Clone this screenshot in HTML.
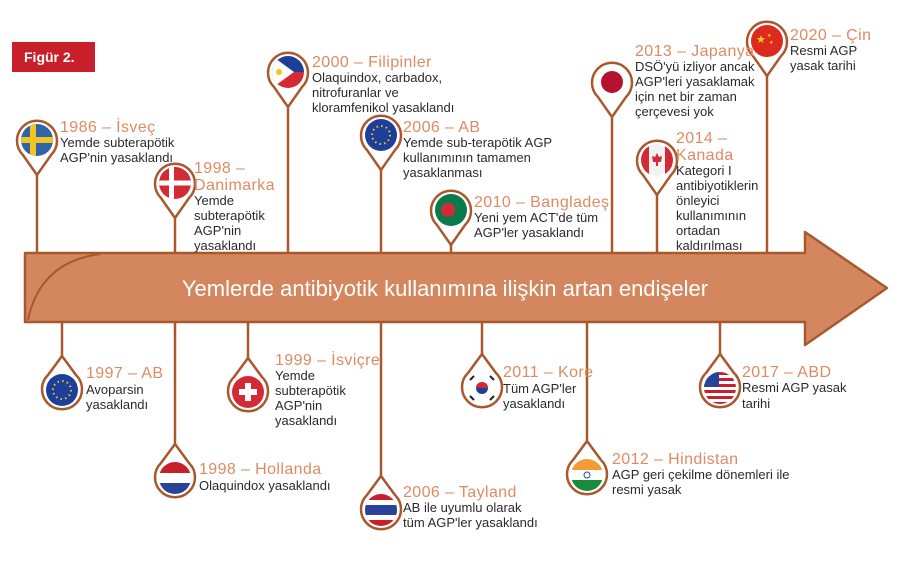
<!DOCTYPE html>
<html><head><meta charset="utf-8"><style>
html,body{margin:0;padding:0;background:#fff;}
svg{display:block;}
text{font-family:"Liberation Sans",sans-serif;}
.t{fill:#e08a62;font-size:16px;letter-spacing:0.4px;}
.b{fill:#2a2a2a;font-size:13px;letter-spacing:0px;}
</style></head><body>
<svg width="900" height="564" viewBox="0 0 900 564" xmlns="http://www.w3.org/2000/svg">
<defs>
<clipPath id="c" clipPathUnits="userSpaceOnUse"><circle cx="0" cy="0" r="16"/></clipPath>
</defs>
<rect x="12" y="42" width="83" height="30" fill="#c8202a"/>
<text x="24" y="62" fill="#fff" font-size="14" font-weight="bold">Figür 2.</text>

<g stroke="#a9582e" stroke-width="2.5" fill="none">
<line x1="37" y1="174" x2="37" y2="253"/>
<line x1="175" y1="218" x2="175" y2="253"/>
<line x1="288" y1="108" x2="288" y2="253"/>
<line x1="381" y1="170" x2="381" y2="253"/>
<line x1="451" y1="244" x2="451" y2="253"/>
<line x1="612" y1="118" x2="612" y2="253"/>
<line x1="657" y1="195" x2="657" y2="253"/>
<line x1="767" y1="76" x2="767" y2="253"/>
<line x1="62" y1="322" x2="62" y2="357"/>
<line x1="175" y1="322" x2="175" y2="445"/>
<line x1="248" y1="322" x2="248" y2="358"/>
<line x1="381" y1="322" x2="381" y2="477"/>
<line x1="482" y1="322" x2="482" y2="355"/>
<line x1="587" y1="322" x2="587" y2="442"/>
<line x1="720" y1="322" x2="720" y2="355"/>
</g>

<path d="M25,253 L805,253 L805,232 L887,288 L805,345 L805,322 L25,322 Z" fill="#d4875f" stroke="#a9582e" stroke-width="2.5" stroke-linejoin="round"/>
<path d="M28,320 Q40,262 100,254" fill="none" stroke="#a9582e" stroke-width="2"/>
<text x="445" y="296" text-anchor="middle" fill="#fff" font-size="22">Yemlerde antibiyotik kullanımına ilişkin artan endişeler</text>

<g stroke="#a9582e" stroke-width="2.5" fill="#fff">
<path transform="translate(37,140)" d="M0,35 L-14,15 A20,20 0 1 1 14,15 Z"/>
<path transform="translate(175,183)" d="M0,35 L-14,15 A20,20 0 1 1 14,15 Z"/>
<path transform="translate(288,72)" d="M0,35 L-14,15 A20,20 0 1 1 14,15 Z"/>
<path transform="translate(381,135)" d="M0,35 L-14,15 A20,20 0 1 1 14,15 Z"/>
<path transform="translate(451,210)" d="M0,35 L-14,15 A20,20 0 1 1 14,15 Z"/>
<path transform="translate(612,82)" d="M0,35 L-14,15 A20,20 0 1 1 14,15 Z"/>
<path transform="translate(657,160)" d="M0,35 L-14,15 A20,20 0 1 1 14,15 Z"/>
<path transform="translate(767,41)" d="M0,35 L-14,15 A20,20 0 1 1 14,15 Z"/>
<path transform="translate(62,390)" d="M0,-34 L-14,-15 A20,20 0 1 0 14,-15 Z"/>
<path transform="translate(175,478)" d="M0,-34 L-14,-15 A20,20 0 1 0 14,-15 Z"/>
<path transform="translate(248,392)" d="M0,-34 L-14,-15 A20,20 0 1 0 14,-15 Z"/>
<path transform="translate(381,510)" d="M0,-34 L-14,-15 A20,20 0 1 0 14,-15 Z"/>
<path transform="translate(482,388)" d="M0,-34 L-14,-15 A20,20 0 1 0 14,-15 Z"/>
<path transform="translate(587,475)" d="M0,-34 L-14,-15 A20,20 0 1 0 14,-15 Z"/>
<path transform="translate(720,388)" d="M0,-34 L-14,-15 A20,20 0 1 0 14,-15 Z"/>
</g>

<g transform="translate(37,140)" clip-path="url(#c)"><rect x="-16" y="-16" width="32" height="32" fill="#2f64a8"/><rect x="-16" y="-3" width="32" height="6" fill="#f4c520"/><rect x="-7" y="-16" width="6" height="32" fill="#f4c520"/></g>
<g transform="translate(175,183)" clip-path="url(#c)"><rect x="-16" y="-16" width="32" height="32" fill="#d42a35"/><rect x="-16" y="-2.5" width="32" height="5" fill="#fff"/><rect x="-6" y="-16" width="5" height="32" fill="#fff"/></g>
<g transform="translate(288,72)" clip-path="url(#c)"><rect x="-16" y="-16" width="32" height="16" fill="#1d3f9a"/><rect x="-16" y="0" width="32" height="16" fill="#d42a35"/><path d="M-16,-16 L6,0 L-16,16Z" fill="#fff"/><circle cx="-9" cy="0" r="3" fill="#f4c520"/></g>
<g transform="translate(381,135)" clip-path="url(#c)"><rect x="-16" y="-16" width="32" height="32" fill="#1d3f9a"/><circle r="9" fill="none" stroke="#f4c520" stroke-width="2" stroke-dasharray="1.5 3.2"/></g>
<g transform="translate(62,390)" clip-path="url(#c)"><rect x="-16" y="-16" width="32" height="32" fill="#1d3f9a"/><circle r="9" fill="none" stroke="#f4c520" stroke-width="2" stroke-dasharray="1.5 3.2"/></g>
<g transform="translate(451,210)" clip-path="url(#c)"><rect x="-16" y="-16" width="32" height="32" fill="#0a7a4a"/><circle cx="-3" cy="0" r="7" fill="#d42a35"/></g>
<g transform="translate(612,82)" clip-path="url(#c)"><rect x="-16" y="-16" width="32" height="32" fill="#fff"/><circle r="11" fill="#b5122e"/></g>
<g transform="translate(657,160)" clip-path="url(#c)"><rect x="-16" y="-16" width="32" height="32" fill="#f2f2f2"/><rect x="-16" y="-16" width="8" height="32" fill="#d42a35"/><rect x="8" y="-16" width="8" height="32" fill="#d42a35"/><path d="M0,-7 L2,-3 L5,-4 L4,2 L1,2 L1,6 L-1,6 L-1,2 L-4,2 L-5,-4 L-2,-3Z" fill="#d42a35"/></g>
<g transform="translate(767,41)" clip-path="url(#c)"><rect x="-16" y="-16" width="32" height="32" fill="#de2a1e"/><text x="-11" y="2" font-size="11" fill="#f8d51c">★</text><text x="0" y="-4" font-size="5" fill="#f8d51c">★</text><text x="2" y="3" font-size="5" fill="#f8d51c">★</text></g>
<g transform="translate(175,478)" clip-path="url(#c)"><rect x="-16" y="-16" width="32" height="11" fill="#c8202a"/><rect x="-16" y="-5" width="32" height="10" fill="#fff"/><rect x="-16" y="5" width="32" height="11" fill="#27449a"/></g>
<g transform="translate(248,392)" clip-path="url(#c)"><rect x="-16" y="-16" width="32" height="32" fill="#d42a35"/><rect x="-9" y="-3" width="18" height="6" fill="#fff"/><rect x="-3" y="-9" width="6" height="18" fill="#fff"/></g>
<g transform="translate(381,510)" clip-path="url(#c)"><rect x="-16" y="-16" width="32" height="32" fill="#c8202a"/><rect x="-16" y="-10" width="32" height="20" fill="#fff"/><rect x="-16" y="-5" width="32" height="10" fill="#27449a"/></g>
<g transform="translate(482,388)" clip-path="url(#c)"><rect x="-16" y="-16" width="32" height="32" fill="#fff"/><circle r="6" fill="#1d3f9a"/><path d="M-6,0 A6,6 0 0 1 6,0Z" fill="#d42a35"/><g stroke="#222" stroke-width="2"><line x1="-12" y1="-8" x2="-8" y2="-12"/><line x1="8" y1="12" x2="12" y2="8"/><line x1="8" y1="-12" x2="12" y2="-8"/><line x1="-12" y1="8" x2="-8" y2="12"/></g></g>
<g transform="translate(587,475)" clip-path="url(#c)"><rect x="-16" y="-16" width="32" height="11" fill="#f39c32"/><rect x="-16" y="-5" width="32" height="10" fill="#fff"/><rect x="-16" y="5" width="32" height="11" fill="#1b8a3a"/><circle r="3" fill="none" stroke="#27449a" stroke-width="1"/></g>
<g transform="translate(720,388)" clip-path="url(#c)"><rect x="-16" y="-16" width="32" height="32" fill="#fff"/><g fill="#c8202a"><rect x="-16" y="-16" width="32" height="3"/><rect x="-16" y="-10" width="32" height="3"/><rect x="-16" y="-4" width="32" height="3"/><rect x="-16" y="2" width="32" height="3"/><rect x="-16" y="8" width="32" height="3"/><rect x="-16" y="14" width="32" height="3"/></g><rect x="-16" y="-16" width="15" height="15" fill="#27449a"/></g>

<text class="t" x="60" y="132">1986 – İsveç</text>
<text class="b" x="60" y="147">Yemde subterapötik</text>
<text class="b" x="60" y="162">AGP'nin yasaklandı</text>

<text class="t" x="194" y="173">1998 –</text>
<text class="t" x="194" y="190">Danimarka</text>
<text class="b" x="194" y="205">Yemde</text>
<text class="b" x="194" y="220">subterapötik</text>
<text class="b" x="194" y="235">AGP'nin</text>
<text class="b" x="194" y="250">yasaklandı</text>

<text class="t" x="312" y="67">2000 – Filipinler</text>
<text class="b" x="312" y="82">Olaquindox, carbadox,</text>
<text class="b" x="312" y="97">nitrofuranlar ve</text>
<text class="b" x="312" y="112">kloramfenikol yasaklandı</text>

<text class="t" x="403" y="132">2006 – AB</text>
<text class="b" x="403" y="147">Yemde sub-terapötik AGP</text>
<text class="b" x="403" y="162">kullanımının tamamen</text>
<text class="b" x="403" y="177">yasaklanması</text>

<text class="t" x="474" y="207">2010 – Bangladeş</text>
<text class="b" x="474" y="222">Yeni yem ACT'de tüm</text>
<text class="b" x="474" y="237">AGP'ler yasaklandı</text>

<text class="t" x="635" y="56">2013 – Japanya</text>
<text class="b" x="635" y="71">DSÖ'yü izliyor ancak</text>
<text class="b" x="635" y="86">AGP'leri yasaklamak</text>
<text class="b" x="635" y="101">için net bir zaman</text>
<text class="b" x="635" y="116">çerçevesi yok</text>

<text class="t" x="676" y="143">2014 –</text>
<text class="t" x="676" y="160">Kanada</text>
<text class="b" x="676" y="175">Kategori I</text>
<text class="b" x="676" y="190">antibiyotiklerin</text>
<text class="b" x="676" y="205">önleyici</text>
<text class="b" x="676" y="220">kullanımının</text>
<text class="b" x="676" y="235">ortadan</text>
<text class="b" x="676" y="250">kaldırılması</text>

<text class="t" x="790" y="40">2020 – Çin</text>
<text class="b" x="790" y="55">Resmi AGP</text>
<text class="b" x="790" y="70">yasak tarihi</text>

<text class="t" x="86" y="378">1997 – AB</text>
<text class="b" x="86" y="394">Avoparsin</text>
<text class="b" x="86" y="409">yasaklandı</text>

<text class="t" x="275" y="365">1999 – İsviçre</text>
<text class="b" x="275" y="380">Yemde</text>
<text class="b" x="275" y="395">subterapötik</text>
<text class="b" x="275" y="410">AGP'nin</text>
<text class="b" x="275" y="425">yasaklandı</text>

<text class="t" x="199" y="474">1998 – Hollanda</text>
<text class="b" x="199" y="490">Olaquindox yasaklandı</text>

<text class="t" x="403" y="497">2006 – Tayland</text>
<text class="b" x="403" y="512">AB ile uyumlu olarak</text>
<text class="b" x="403" y="527">tüm AGP'ler yasaklandı</text>

<text class="t" x="503" y="377">2011 – Kore</text>
<text class="b" x="503" y="393">Tüm AGP'ler</text>
<text class="b" x="503" y="408">yasaklandı</text>

<text class="t" x="612" y="464">2012 – Hindistan</text>
<text class="b" x="612" y="479">AGP geri çekilme dönemleri ile</text>
<text class="b" x="612" y="494">resmi yasak</text>

<text class="t" x="742" y="377">2017 – ABD</text>
<text class="b" x="742" y="392">Resmi AGP yasak</text>
<text class="b" x="742" y="408">tarihi</text>
</svg>
</body></html>
